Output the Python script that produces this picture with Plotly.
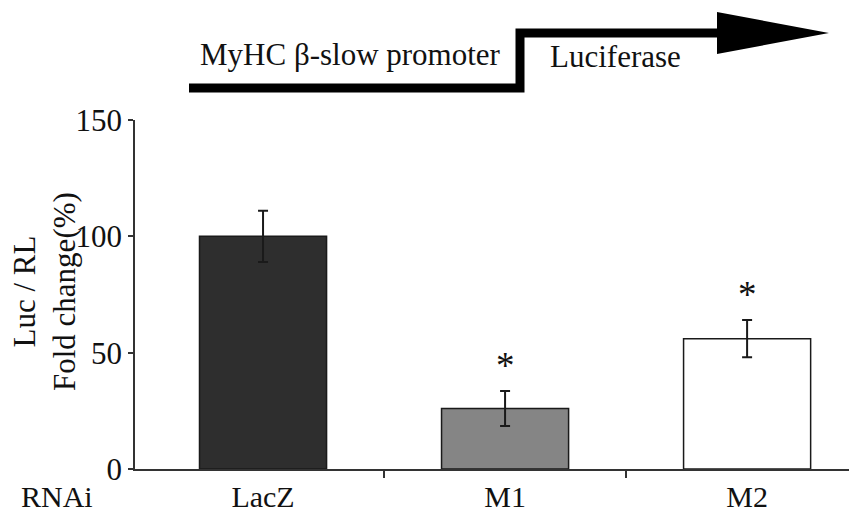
import plotly.graph_objects as go

# Luciferase reporter data (Luc / RL, % of LacZ control)
groups = ["LacZ", "M1", "M2"]
values = [100, 26, 56]
errors = [11, 7.5, 8]
significant = [False, True, True]
bar_colors = ["#2e2e2e", "#858585", "#ffffff"]
y_ticks = [0, 50, 100, 150]

W, H = 849, 515
L, R, T, B = 135, 0, 120, 46
FONT = "Liberation Serif, Times New Roman, serif"

pw, ph = W - L - R, H - T - B


def px(x):
    return (x - L) / pw


def py(y):
    return (H - B - y) / ph


xpos = list(range(len(groups)))

fig = go.Figure()
fig.add_trace(go.Bar(
    x=xpos, y=values, width=0.525,
    marker=dict(color=bar_colors, line=dict(color="#1a1a1a", width=1.5)),
    error_y=dict(type="data", array=errors, visible=True,
                 color="#1a1a1a", thickness=2, width=5),
    showlegend=False, hoverinfo="skip",
))

# significance stars above error bars
for i, (v, e, s) in enumerate(zip(values, errors, significant)):
    if s:
        fig.add_annotation(x=i, y=v + e + 11, xref="x", yref="y", text="*",
                           showarrow=False, yanchor="middle",
                           font=dict(family=FONT, size=37, color="#111"))

# promoter / reporter construct diagram
line_path = "M {} {} L {} {} L {} {} L {} {}".format(
    px(189), py(88), px(520), py(88), px(520), py(33), px(720), py(33))
fig.add_shape(type="path", xref="paper", yref="paper", path=line_path,
              line=dict(color="black", width=9))
head_path = "M {} {} L {} {} L {} {} Z".format(
    px(717), py(12), px(829), py(33), px(717), py(54))
fig.add_shape(type="path", xref="paper", yref="paper", path=head_path,
              line=dict(color="black", width=0), fillcolor="black")
fig.add_annotation(x=px(350), y=py(55), xref="paper", yref="paper",
                   text="MyHC β-slow promoter", showarrow=False,
                   xanchor="center", yanchor="middle",
                   font=dict(family=FONT, size=31, color="#111"))
fig.add_annotation(x=px(615), y=py(57), xref="paper", yref="paper",
                   text="Luciferase", showarrow=False,
                   xanchor="center", yanchor="middle",
                   font=dict(family=FONT, size=31, color="#111"))

# axis titles
fig.add_annotation(x=px(44), y=py(292), xref="paper", yref="paper",
                   text="Luc / RL<br>Fold change(%)", showarrow=False,
                   textangle=-90, xanchor="center", yanchor="middle",
                   font=dict(family=FONT, size=31, color="#111"))
fig.add_annotation(x=px(57), y=py(496), xref="paper", yref="paper",
                   text="RNAi", showarrow=False,
                   xanchor="center", yanchor="middle",
                   font=dict(family=FONT, size=30, color="#111"))

fig.update_layout(
    width=W, height=H,
    margin=dict(l=L, r=R, t=T, b=B, pad=0),
    paper_bgcolor="white", plot_bgcolor="white",
    font=dict(family=FONT, size=31, color="#111"),
    xaxis=dict(
        range=[-0.529, 2.421], tickvals=xpos, ticktext=groups,
        ticks="", showgrid=False, zeroline=False,
        showline=True, linecolor="#333", linewidth=1.5,
        tickfont=dict(family=FONT, size=30, color="#111"),
        minor=dict(tickvals=[0.5, 1.5], ticks="outside", ticklen=7,
                   tickcolor="#333", tickwidth=1.5, showgrid=False),
    ),
    yaxis=dict(
        range=[0, 150], tickvals=y_ticks, ticks="outside", ticklen=5,
        tickcolor="#333", tickwidth=1.5, showgrid=False, zeroline=False,
        showline=True, linecolor="#333", linewidth=1.5,
        tickfont=dict(family=FONT, size=31, color="#111"),
    ),
)

fig.write_html("out.html")
